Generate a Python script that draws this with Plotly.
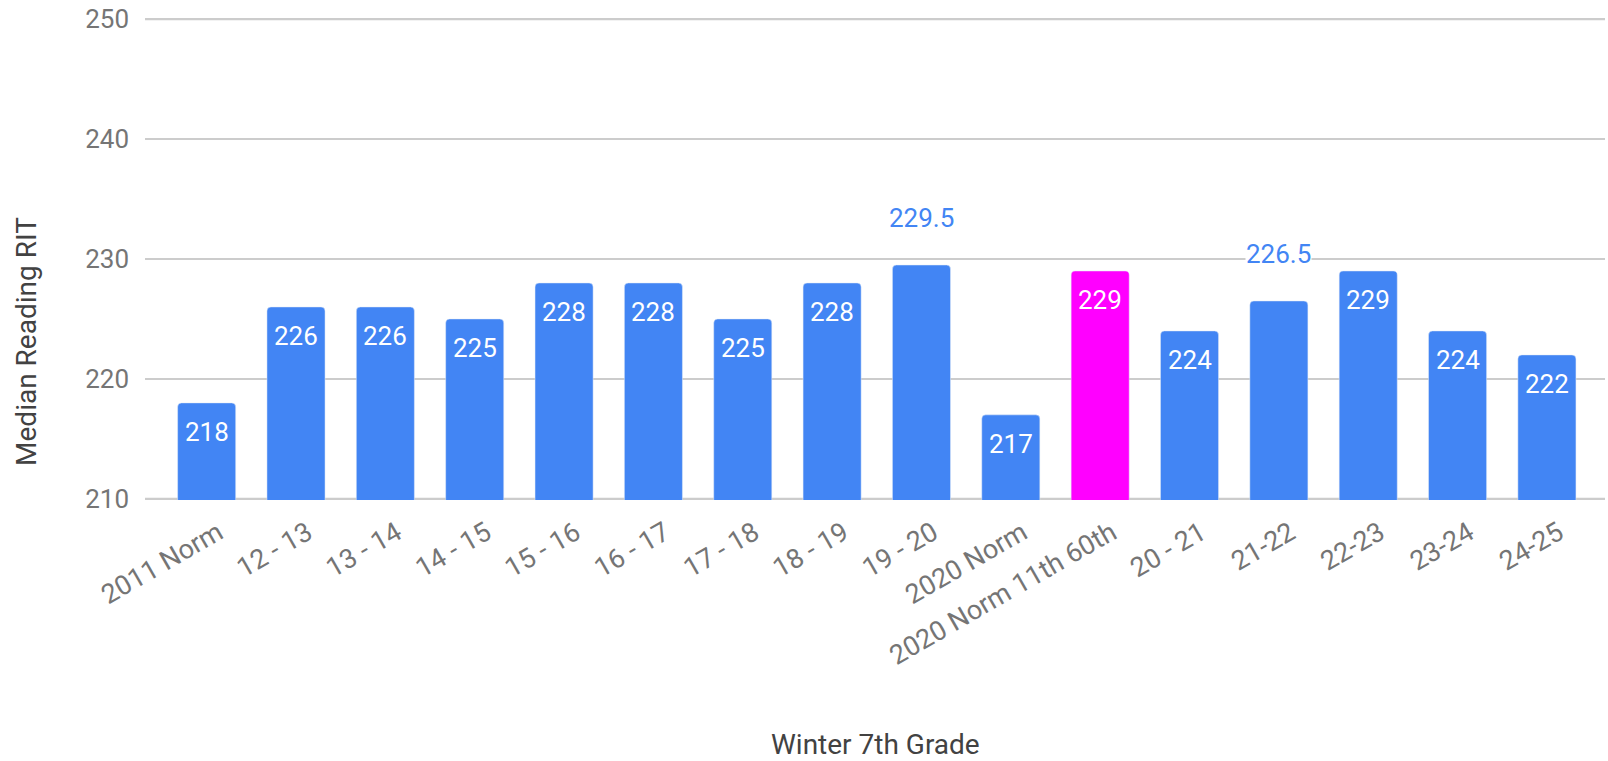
import plotly.graph_objects as go

# Median reading RIT by year (winter, 7th grade)
categories = ["2011 Norm", "12 - 13", "13 - 14", "14 - 15", "15 - 16", "16 - 17",
              "17 - 18", "18 - 19", "19 - 20", "2020 Norm", "2020 Norm 11th 60th",
              "20 - 21", "21-22", "22-23", "23-24", "24-25"]
values = [218, 226, 226, 225, 228, 228, 225, 228, 229.5, 217, 229, 224, 226.5, 229, 224, 222]
highlight = "2020 Norm 11th 60th"
outside_labels = ["19 - 20", "21-22"]  # labels drawn above the bar
y_ticks = [210, 220, 230, 240, 250]

BLUE = "#4285F4"
MAGENTA = "#FF00FF"
FONT = "Roboto"
GRID = "#cccccc"

colors = [MAGENTA if c == highlight else BLUE for c in categories]

x_range = [-0.69, 15.65]
label_shift = 0.13  # category labels sit a little right of the bar centre

fig = go.Figure()
fig.add_trace(go.Bar(
    x=categories,
    y=values,
    marker=dict(color=colors, cornerradius=4),
    width=0.65,
    hoverinfo="x+y",
))
# invisible trace carrying the (shifted) category tick labels
fig.add_trace(go.Scatter(
    x=categories, y=values, xaxis="x2", mode="markers",
    marker=dict(opacity=0), hoverinfo="skip",
))

# value labels: white inside the top of the bar, blue above for a couple
annotations = []
for c, v in zip(categories, values):
    label = f"{v:g}"
    if c in outside_labels:
        annotations.append(dict(
            x=c, y=v, text=label, showarrow=False, yanchor="bottom", yshift=31,
            font=dict(family=FONT, size=26, color=BLUE), bgcolor="white", borderpad=0,
        ))
    else:
        annotations.append(dict(
            x=c, y=v, text=label, showarrow=False, yanchor="top", yshift=-12,
            font=dict(family=FONT, size=26, color="white"),
        ))

# axis titles
annotations.append(dict(
    text="Median Reading RIT", xref="paper", yref="paper", x=-0.0808, y=0.328,
    xanchor="center", yanchor="middle",
    textangle=-90, showarrow=False, font=dict(family=FONT, size=28, color="#424242"),
))
annotations.append(dict(
    text="Winter 7th Grade", xref="paper", yref="paper", x=0.5, y=-0.508,
    xanchor="center", yanchor="middle",
    showarrow=False, font=dict(family=FONT, size=28, color="#424242"),
))

# top and bottom grid lines (plotly drops grid lines on the plot edges)
shapes = [
    dict(type="line", xref="paper", x0=0, x1=1, yref="y", y0=t, y1=t,
         line=dict(color=GRID, width=2), layer="below")
    for t in (y_ticks[0], y_ticks[-1])
]

fig.update_layout(
    width=1608, height=761,
    margin=dict(l=145, r=3, t=18, b=261),
    paper_bgcolor="white", plot_bgcolor="white",
    font=dict(family=FONT, size=26, color="#757575"),
    showlegend=False,
    annotations=annotations,
    shapes=shapes,
    xaxis=dict(
        range=x_range,
        showticklabels=False,
        showgrid=False,
        showline=False,
        ticks="",
        automargin=False,
    ),
    xaxis2=dict(
        overlaying="x",
        anchor="y",
        side="bottom",
        type="category",
        categoryorder="array",
        categoryarray=categories,
        range=[x_range[0] - label_shift, x_range[1] - label_shift],
        tickangle=-30,
        showgrid=False,
        showline=False,
        zeroline=False,
        ticks="",
        ticklabelstandoff=11,
        automargin=False,
        tickfont=dict(family=FONT, size=27, color="#757575"),
    ),
    yaxis=dict(
        range=[209.9, 250.1],
        tickvals=y_ticks,
        showgrid=True,
        gridcolor=GRID,
        gridwidth=2,
        zeroline=False,
        showline=False,
        ticks="",
        ticklabelstandoff=15,
        ticklabeloverflow="allow",
        automargin=False,
        tickfont=dict(family=FONT, size=26, color="#757575"),
    ),
)

# drop the default 8px page margin so the figure fills the window exactly
fig.write_html("out.html", config={"displayModeBar": False},
               post_script="document.body.style.margin = '0';")
